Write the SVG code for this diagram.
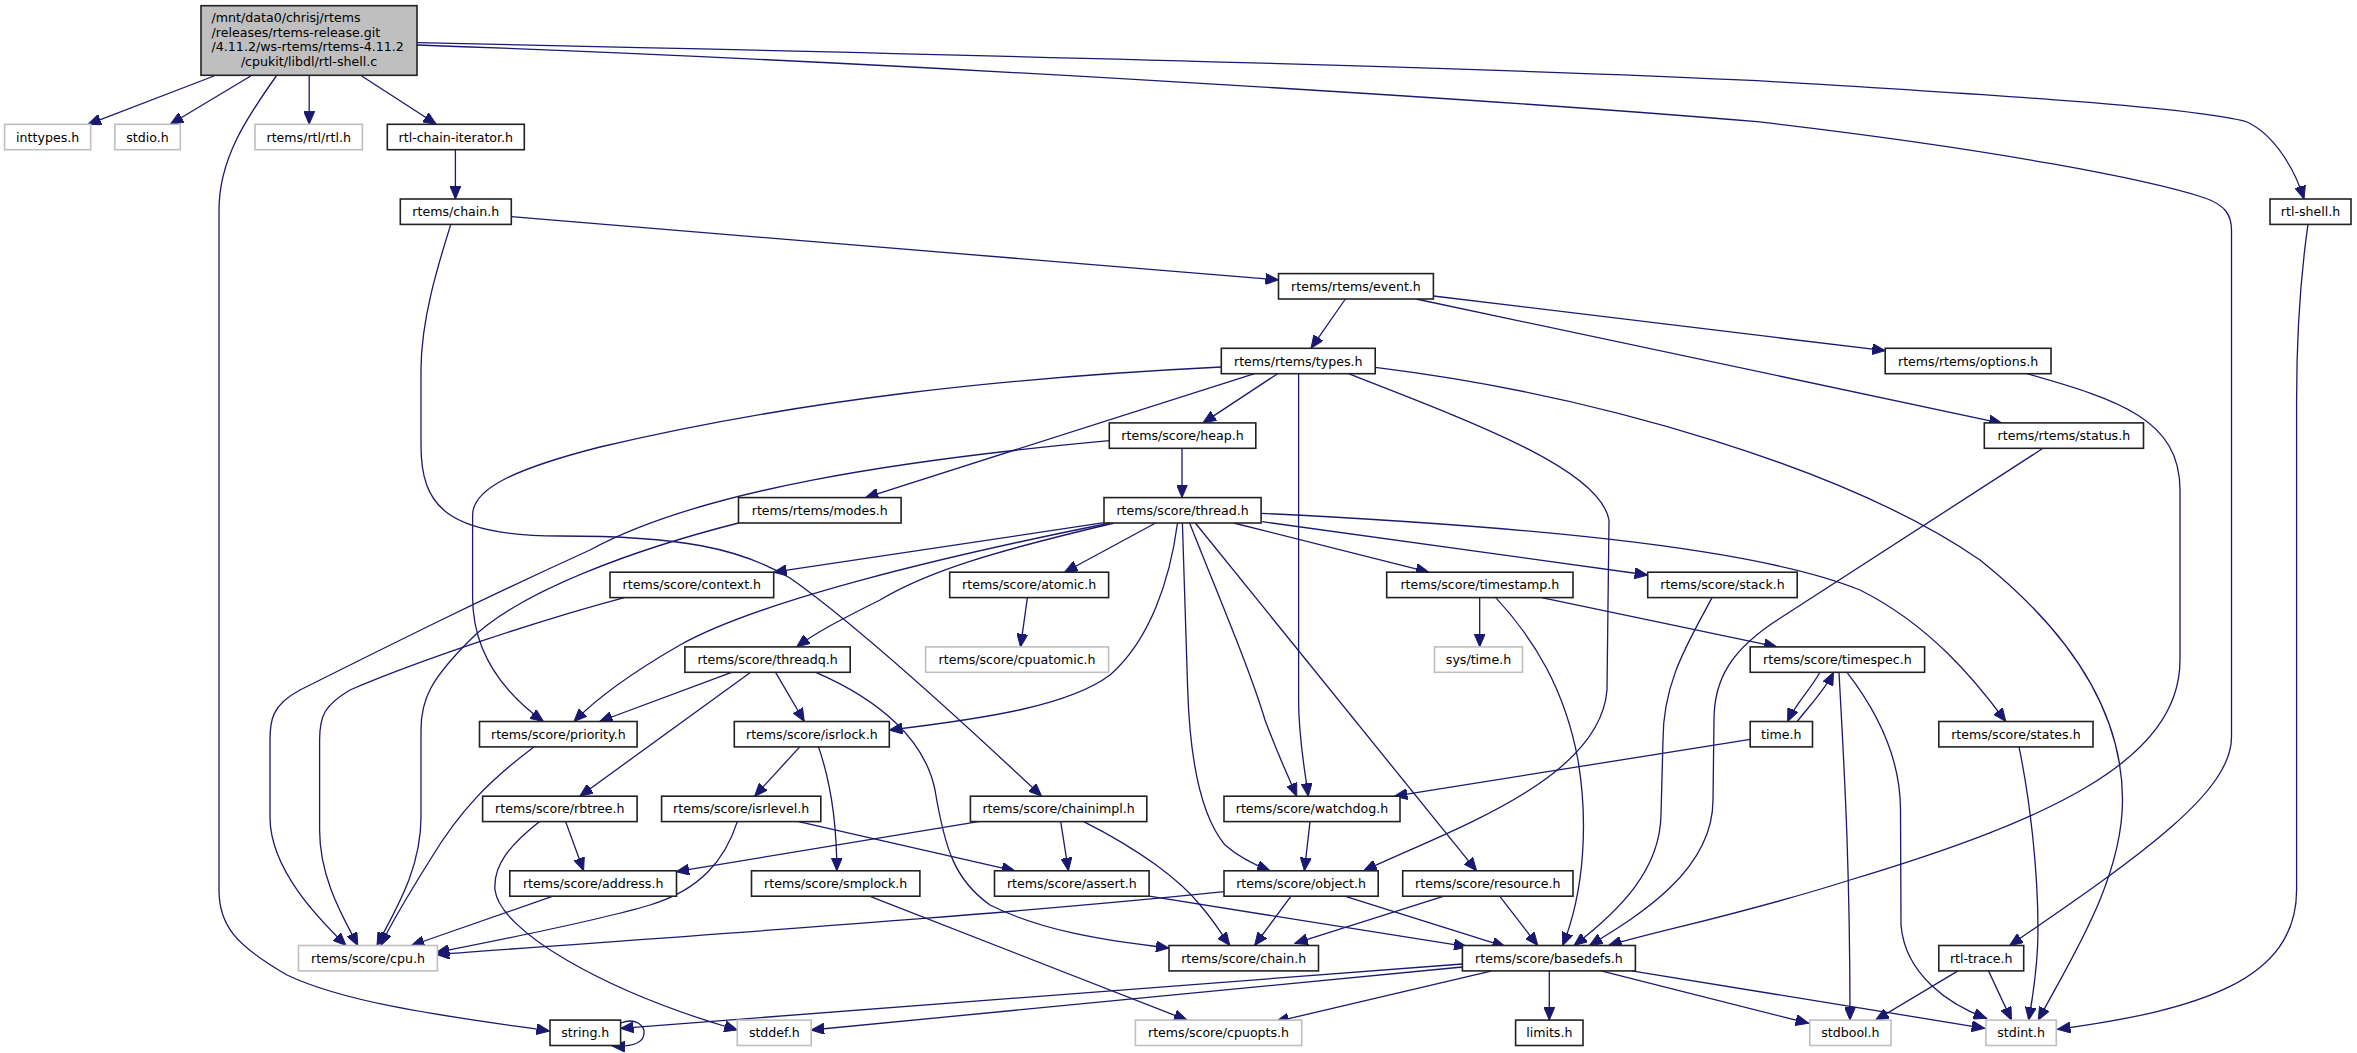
<svg xmlns="http://www.w3.org/2000/svg" width="2357" height="1053" viewBox="0 0 2357 1053">
<defs>
<style>
.bg{fill:#fff}
.n rect{fill:#fff;stroke:#222;stroke-width:1.6}
.g rect{fill:#fff;stroke:#bfbfbf;stroke-width:1.6}
.r rect{fill:#bfbfbf;stroke:#222;stroke-width:1.6}
text{font-family:"DejaVu Sans","Liberation Sans",sans-serif;font-size:12.6px;fill:#000;text-anchor:middle}
.r text{text-anchor:start}
.r text.c{text-anchor:middle}
#edges path{fill:none;stroke:#191970;stroke-width:1.3;marker-end:url(#ah)}
</style>
<marker id="ah" markerUnits="userSpaceOnUse" markerWidth="14" markerHeight="11" refX="13" refY="5.5" orient="auto"><path d="M0,0 L13,5.5 L0,11 z" fill="#191970" stroke="#191970" stroke-width="1"/></marker>
</defs>
<rect class="bg" x="0" y="0" width="2357" height="1053"/>
<g id="edges">
<path d="M214,76 L88,124.3"/>
<path d="M250.7,76 L170.3,124.3"/>
<path d="M309.2,76 L309.2,124.3"/>
<path d="M361.7,76 L436.3,124.3"/>
<path d="M276.3,76 C245,120 219,160 219,210 L219,890 C219,925 235,945 287,975 C350,1005 460,1018 549.5,1031"/>
<path d="M417,42.7 C900,53 1500,68 1757,80.7 C2000,95 2200,108 2247,122 C2275,135 2295,170 2304,199"/>
<path d="M417,45 C900,62 1500,100 1757,121.7 C2000,150 2150,180 2205,198 C2225,205 2231.5,215 2231.5,230 L2231.5,737 C2231.5,790 2150,850 2009.6,945.5"/>
<path d="M455.4,149.7 L455.4,199"/>
<path d="M511.3,216.7 L1278.5,280"/>
<path d="M450.8,224.4 C438,265 421,320 421,370 L421,445 C421,505 445,536 560,536 C680,536 740,548 790,578 C850,620 950,710 1041.6,796.2"/>
<path d="M1345.4,299 L1311,348.3"/>
<path d="M1433.4,296 L1885.2,350.7"/>
<path d="M1416,299 L2002,423.3"/>
<path d="M2308,224.4 C2300,280 2296.6,330 2296.6,400 L2296.6,890 C2296.6,980 2200,1010 2057.4,1029.3"/>
<path d="M1277.6,373.7 L1203,422.9"/>
<path d="M1254.6,373.7 L865.5,497.6"/>
<path d="M1221.3,367 C1000,378 800,400 600,447 C510,470 472.6,490 472.6,515 L472.6,597 C472.6,650 500,690 543.4,721.5"/>
<path d="M1298.6,373.7 L1298.6,700 C1298.6,740 1305,770 1308.2,796.2"/>
<path d="M1348.4,373.7 C1480,425 1600,470 1609,520 L1607,690 C1600,780 1450,830 1363.7,870.8"/>
<path d="M1375.2,367.3 C1600,395 1850,470 1980,560 C2080,640 2122.5,720 2122.5,800 C2122.5,880 2070,960 2038.3,1020.1"/>
<path d="M2026.8,373.7 C2120,400 2180,420 2180,490 L2180,660 C2180,760 2050,820 1850,880 C1740,915 1660,930 1608.6,945.5"/>
<path d="M2043,448.3 L1780,618.3 C1730,650 1714,680 1714,720 L1713,800 C1713,870 1640,915 1589.5,945.5"/>
<path d="M1182,448.3 L1182,497.6"/>
<path d="M1109.3,440.7 C900,460 700,490 590,550 C480,600 400,640 300,690 C272,705 270,720 270,740 L270,817 C270,870 320,920 346,945.5"/>
<path d="M738.5,523 C640,548 520,590 470,640 C430,680 421,700 421,730 L421,817 C421,870 395,910 377,945.5"/>
<path d="M624.4,597.6 C540,620 420,660 350,690 C325,705 319.6,715 319.6,740 L319.6,830 C319.6,880 345,920 357.8,945.5"/>
<path d="M533.9,746.9 C490,780 460,810 430,860 C405,900 390,925 380.8,945.5"/>
<path d="M553,896.2 L411.4,945.5"/>
<path d="M737.3,821.6 C725,860 700,890 650,905 C600,920 500,940 436.3,952.5"/>
<path d="M1224,891.7 C1000,915 700,935 436.3,954.5"/>
<path d="M1104,522.7 L773.7,572.2"/>
<path d="M1110.5,523 C950,555 760,600 680,645 C640,668 600,695 574,721.5"/>
<path d="M1114.3,523 C1000,550 930,570 880,600 C840,620 815,633 796.7,646.9"/>
<path d="M1155.6,523 L1064.6,572.2"/>
<path d="M1177.5,523 C1170,580 1150,640 1110,675 C1070,705 990,718 889.3,730"/>
<path d="M1182.4,523 L1187.7,690 C1190,760 1200,815 1225,845 C1240,858 1255,865 1270,870.8"/>
<path d="M1189.6,523 C1220,600 1250,670 1265,720 C1280,760 1290,780 1296.7,796.2"/>
<path d="M1195.3,523 L1476.6,870.8"/>
<path d="M1233.6,523 L1428.8,572.2"/>
<path d="M1262.3,521.7 L1647.7,575"/>
<path d="M1261.1,513.3 C1500,525 1750,545 1860,590 C1930,625 1975,680 2005.8,721.5"/>
<path d="M1479.7,597.6 L1479.7,646.9"/>
<path d="M1495.7,597.6 C1535,640 1565,690 1578,760 C1588,820 1585,890 1562.7,945.5"/>
<path d="M1541.6,597.6 L1777,646.9"/>
<path d="M1712,597.6 C1690,640 1663,680 1663,740 L1661,815 C1660,870 1620,910 1574,945.5"/>
<path d="M1027.4,597.6 L1020.5,646.9"/>
<path d="M731.6,672.3 L599.6,721.5"/>
<path d="M750.7,672.3 L579.8,796.2"/>
<path d="M775.6,672.3 L804.3,721.5"/>
<path d="M815.8,672.3 C880,700 925,740 935,790 C945,850 955,880 990,905 C1040,930 1100,940 1169,948"/>
<path d="M799.7,746.9 L754.6,796.2"/>
<path d="M818.5,746.9 C830,780 836.8,820 836.8,870.8"/>
<path d="M798.6,821.6 L1014.8,870.8"/>
<path d="M978.4,821.6 L676.1,871.7"/>
<path d="M1060.7,821.6 L1068.4,870.8"/>
<path d="M1083.7,821.6 C1140,850 1180,880 1200,905 C1215,922 1222,935 1229.8,945.5"/>
<path d="M1149.1,896.2 L1467,946.7"/>
<path d="M869.4,896.2 L1187,1020.1"/>
<path d="M1750.2,739.3 L1394.3,796.2"/>
<path d="M1820,672.3 C1810,690 1795,705 1787.6,721.5"/>
<path d="M1797.2,721.5 C1810,705 1825,690 1833.5,672.3"/>
<path d="M1839,672.3 C1843,750 1850,850 1850,1020.1"/>
<path d="M1847,672.3 C1880,715 1900.5,760 1900.5,810 L1901,925 C1905,975 1950,1005 1986.6,1018.3"/>
<path d="M2019,746.9 C2030,800 2038,870 2038,930 C2038,970 2032,1000 2028.7,1020.1"/>
<path d="M1549.3,970.9 L1549.3,1020.1"/>
<path d="M1492,970.9 L1275.7,1021.7"/>
<path d="M1462.4,964 L620.6,1028.3"/>
<path d="M1462.4,967 L811.2,1030"/>
<path d="M1601,970.9 L1808.7,1023.3"/>
<path d="M1631.6,970.9 L1984.7,1028.3"/>
<path d="M1958,970.9 L1875.6,1020.1"/>
<path d="M1988.5,970.9 L2011.5,1020.1"/>
<path d="M565.6,821.6 L583.6,870.8"/>
<path d="M539.6,821.6 C510,845 493,865 495,890 C500,930 600,990 737.3,1030"/>
<path d="M1310,821.6 L1304.4,870.8"/>
<path d="M1291,896.2 L1254.6,945.5"/>
<path d="M1344.6,896.2 L1505.3,946.7"/>
<path d="M1444,896.2 L1294.8,943.3"/>
<path d="M1499.6,896.2 L1537.8,945.5"/>
<path d="M620.6,1023 C636,1017 645,1026 644,1034 C643,1043 632,1047 612,1046"/>
</g>
<g id="n1" class="r"><rect x="201" y="5.7" width="216" height="69.6"/><text x="211.6" y="21.8">/mnt/data0/chrisj/rtems</text><text x="211.6" y="36.5">/releases/rtems-release.git</text><text x="211.6" y="51.2">/4.11.2/ws-rtems/rtems-4.11.2</text><text class="c" x="309" y="65.9">/cpukit/libdl/rtl-shell.c</text></g>
<g id="n2" class="g"><rect x="4.6" y="124.3" width="86.1" height="25.4"/><text x="47.65" y="141.5">inttypes.h</text></g>
<g id="n3" class="g"><rect x="114.8" y="124.3" width="65.5" height="25.4"/><text x="147.55" y="141.5">stdio.h</text></g>
<g id="n4" class="g"><rect x="255" y="124.3" width="107.4" height="25.4"/><text x="308.7" y="141.5">rtems/rtl/rtl.h</text></g>
<g id="n5" class="n"><rect x="387.3" y="124.3" width="137" height="25.4"/><text x="455.8" y="141.5">rtl-chain-iterator.h</text></g>
<g id="n6" class="n"><rect x="400.3" y="199" width="111" height="25.4"/><text x="455.8" y="216.2">rtems/chain.h</text></g>
<g id="n7" class="n"><rect x="2270" y="199" width="81" height="25.4"/><text x="2310.5" y="216.2">rtl-shell.h</text></g>
<g id="n8" class="n"><rect x="1278.5" y="273.6" width="154.9" height="25.4"/><text x="1355.95" y="290.8">rtems/rtems/event.h</text></g>
<g id="n9" class="n"><rect x="1221.3" y="348.3" width="153.9" height="25.4"/><text x="1298.25" y="365.5">rtems/rtems/types.h</text></g>
<g id="n10" class="n"><rect x="1885.2" y="348.3" width="165.8" height="25.4"/><text x="1968.1" y="365.5">rtems/rtems/options.h</text></g>
<g id="n11" class="n"><rect x="1109.3" y="422.9" width="146.5" height="25.4"/><text x="1182.55" y="440.1">rtems/score/heap.h</text></g>
<g id="n12" class="n"><rect x="1984.3" y="422.9" width="159.2" height="25.4"/><text x="2063.9" y="440.1">rtems/rtems/status.h</text></g>
<g id="n13" class="n"><rect x="738.5" y="497.6" width="162.6" height="25.4"/><text x="819.8" y="514.8">rtems/rtems/modes.h</text></g>
<g id="n14" class="n"><rect x="1104" y="497.6" width="157.1" height="25.4"/><text x="1182.55" y="514.8">rtems/score/thread.h</text></g>
<g id="n15" class="n"><rect x="610" y="572.2" width="163.7" height="25.4"/><text x="691.85" y="589.4">rtems/score/context.h</text></g>
<g id="n16" class="n"><rect x="949.7" y="572.2" width="158.9" height="25.4"/><text x="1029.15" y="589.4">rtems/score/atomic.h</text></g>
<g id="n17" class="n"><rect x="1386.7" y="572.2" width="186.3" height="25.4"/><text x="1479.85" y="589.4">rtems/score/timestamp.h</text></g>
<g id="n18" class="n"><rect x="1647.7" y="572.2" width="149.5" height="25.4"/><text x="1722.45" y="589.4">rtems/score/stack.h</text></g>
<g id="n19" class="n"><rect x="684.9" y="646.9" width="165.3" height="25.4"/><text x="767.55" y="664.1">rtems/score/threadq.h</text></g>
<g id="n20" class="g"><rect x="925.6" y="646.9" width="183" height="25.4"/><text x="1017.1" y="664.1">rtems/score/cpuatomic.h</text></g>
<g id="n21" class="g"><rect x="1434.5" y="646.9" width="88" height="25.4"/><text x="1478.5" y="664.1">sys/time.h</text></g>
<g id="n22" class="n"><rect x="1750.2" y="646.9" width="174.4" height="25.4"/><text x="1837.4" y="664.1">rtems/score/timespec.h</text></g>
<g id="n23" class="n"><rect x="479.5" y="721.5" width="157.6" height="25.4"/><text x="558.3" y="738.7">rtems/score/priority.h</text></g>
<g id="n24" class="n"><rect x="734.3" y="721.5" width="155" height="25.4"/><text x="811.8" y="738.7">rtems/score/isrlock.h</text></g>
<g id="n25" class="n"><rect x="1750.2" y="721.5" width="62.3" height="25.4"/><text x="1781.35" y="738.7">time.h</text></g>
<g id="n26" class="n"><rect x="1938.8" y="721.5" width="154.2" height="25.4"/><text x="2015.9" y="738.7">rtems/score/states.h</text></g>
<g id="n27" class="n"><rect x="482.6" y="796.2" width="154.5" height="25.4"/><text x="559.85" y="813.4">rtems/score/rbtree.h</text></g>
<g id="n28" class="n"><rect x="661.6" y="796.2" width="159.2" height="25.4"/><text x="741.2" y="813.4">rtems/score/isrlevel.h</text></g>
<g id="n29" class="n"><rect x="970.4" y="796.2" width="176.4" height="25.4"/><text x="1058.6" y="813.4">rtems/score/chainimpl.h</text></g>
<g id="n30" class="n"><rect x="1224" y="796.2" width="176" height="25.4"/><text x="1312" y="813.4">rtems/score/watchdog.h</text></g>
<g id="n31" class="n"><rect x="509.8" y="870.8" width="166.7" height="25.4"/><text x="593.15" y="888">rtems/score/address.h</text></g>
<g id="n32" class="n"><rect x="751.5" y="870.8" width="168.4" height="25.4"/><text x="835.7" y="888">rtems/score/smplock.h</text></g>
<g id="n33" class="n"><rect x="994.5" y="870.8" width="154.6" height="25.4"/><text x="1071.8" y="888">rtems/score/assert.h</text></g>
<g id="n34" class="n"><rect x="1224" y="870.8" width="154.2" height="25.4"/><text x="1301.1" y="888">rtems/score/object.h</text></g>
<g id="n35" class="n"><rect x="1402.7" y="870.8" width="170.3" height="25.4"/><text x="1487.85" y="888">rtems/score/resource.h</text></g>
<g id="n36" class="g"><rect x="298.5" y="945.5" width="138.9" height="25.4"/><text x="367.95" y="962.7">rtems/score/cpu.h</text></g>
<g id="n37" class="n"><rect x="1169" y="945.5" width="149.5" height="25.4"/><text x="1243.75" y="962.7">rtems/score/chain.h</text></g>
<g id="n38" class="n"><rect x="1462.4" y="945.5" width="173" height="25.4"/><text x="1548.9" y="962.7">rtems/score/basedefs.h</text></g>
<g id="n39" class="n"><rect x="1938.8" y="945.5" width="84.9" height="25.4"/><text x="1981.25" y="962.7">rtl-trace.h</text></g>
<g id="n40" class="n"><rect x="550" y="1020.1" width="70.6" height="25.4"/><text x="585.3" y="1037.3">string.h</text></g>
<g id="n41" class="g"><rect x="737.3" y="1020.1" width="73.9" height="25.4"/><text x="774.25" y="1037.3">stddef.h</text></g>
<g id="n42" class="g"><rect x="1135.4" y="1020.1" width="166.3" height="25.4"/><text x="1218.55" y="1037.3">rtems/score/cpuopts.h</text></g>
<g id="n43" class="n"><rect x="1515.6" y="1020.1" width="67.4" height="25.4"/><text x="1549.3" y="1037.3">limits.h</text></g>
<g id="n44" class="g"><rect x="1809.8" y="1020.1" width="81.2" height="25.4"/><text x="1850.4" y="1037.3">stdbool.h</text></g>
<g id="n45" class="g"><rect x="1985.9" y="1020.1" width="70.4" height="25.4"/><text x="2021.1" y="1037.3">stdint.h</text></g>
</svg>
